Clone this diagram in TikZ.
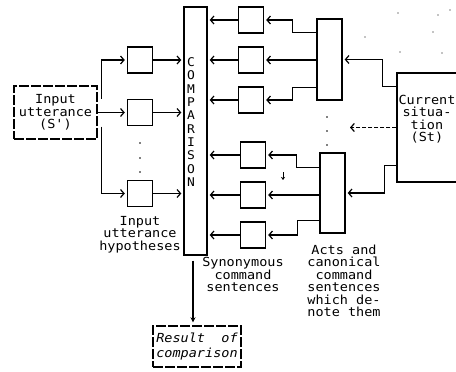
\documentclass[tikz,border=0pt]{standalone}
\usepackage{fontspec}
\newfontfamily\tw[FakeStretch=1.08]{DejaVu Sans Mono}
\usetikzlibrary{arrows.meta}
\begin{document}
\begin{tikzpicture}[x=1pt,y=-1pt,
  sq/.style={draw,line width=1.4pt,minimum width=25pt,minimum height=26pt,inner sep=0pt},
  tall/.style={draw,line width=1.4pt,inner sep=0pt},
  brk/.style={dash pattern=on 10pt off 2pt},
  arr/.style={line width=1.2pt,-{Straight Barb[length=3.5pt,width=8pt,line width=1.2pt]},shorten >=2pt},
  lbl/.style={font=\tw\fontsize{12.5}{12.5}\selectfont,align=center,inner sep=0pt},
  lett/.style={font=\tw\fontsize{12}{13.3}\selectfont,align=center,inner sep=0pt},
  dn/.style={line width=1.2pt,-{Stealth[length=5pt,width=5pt]}}
]
\useasboundingbox (0,0) rectangle (456,372);
\clip (0,0) rectangle (456,372);

% input utterance
\node[tall,brk,minimum width=83pt,minimum height=53pt,lbl] (in) at (55.5,112.5) {Input\\utterance\\(S')};

% hypotheses
\node[sq] (h1) at (140,60) {};
\node[sq] (h2) at (140,112.5) {};
\node[sq] (h3) at (140,193.5) {};
\foreach \yy in {143,158,172} \fill (140,\yy) circle (0.9pt);
\node[lbl] (hyplbl) at (140,234.5) {Input\\utterance\\hypotheses};

% comparison
\node[tall,minimum width=23pt,minimum height=248pt] (comp) at (195.5,131) {};
\node[lett] (complbl) at (191,122) {C\\O\\M\\P\\A\\R\\I\\S\\O\\N};

% synonymous command sentences
\node[sq] (s1) at (251,20) {};
\node[sq] (s2) at (251,60) {};
\node[sq] (s3) at (251,100) {};
\node[sq] (s4) at (253,155) {};
\node[sq] (s5) at (253,195) {};
\node[sq] (s6) at (253,235) {};
\node[lbl] (synlbl) at (243,274.5) {Synonymous\\command\\sentences};

% acts
\node[tall,minimum width=25pt,minimum height=81pt] (a1) at (329.5,59.5) {};
\node[tall,minimum width=25pt,minimum height=80pt] (a2) at (332.5,193) {};
\foreach \yy in {117,131,145} \fill (327,\yy) circle (0.9pt);
\node[lbl] (actlbl) at (344,281) {Acts and\\canonical\\command\\sentences\\which de-\\note them};

% current situation
\node[tall,minimum width=80pt,minimum height=109pt] (cs) at (437,127.5) {};
\node[lbl] (cslbl) at (427,119) {Current\\situa-\\tion\\(St)};

% result
\node[tall,brk,minimum width=88pt,minimum height=41pt,lbl,font=\tw\itshape\fontsize{12.5}{15}\selectfont] (res) at (197,346.5) {Result\ \ of\\comparison};

% input -> hypotheses
\draw[arr] (in.east) ++(4,-14) |- (h1.west);
\draw[arr] (in.east) -- (h2.west);
\draw[arr] (in.east) ++(4,14) |- (h3.west);

% hypotheses -> comparison
\foreach \n in {h1,h2,h3} \draw[arr] (\n.east) -- (\n.east -| comp.west);

% synonymous -> comparison
\foreach \n in {s1,s2,s3,s4,s5,s6} \draw[arr] (\n.west) -- (\n.west -| comp.east);

% acts -> synonymous
\draw[arr] (a1.north west) ++(0,14) -- ++(-24,0) |- (s1.east);
\draw[arr] (a1.west |- s2.east) -- (s2.east);
\draw[arr] (a1.south west) ++(0,-13) -- ++(-24,0) |- (s3.east);
\draw[arr] (a2.north west) ++(0,15) -- ++(-23,0) |- (s4.east);
\draw[arr] (a2.west |- s5.east) -- (s5.east);
\draw[arr] (a2.south west) ++(0,-13) -- ++(-22,0) |- (s6.east);

% current situation -> acts
\draw[arr] (cs.north west) ++(0,14) -- ++(-14,0) |- (a1.east);
\coordinate (dend) at (348,127.5);
\draw[arr,dash pattern=on 4pt off 2pt] (cs.west) -- (dend);
\draw[arr] (cs.south west) ++(0,-17) -- ++(-12,0) |- (a2.east);

% comparison -> result
\draw[dn] ([xshift=-2.5pt,yshift=-5pt]comp.south) -- ([xshift=-4pt,yshift=3pt]res.north);

% small mark
\coordinate (m1) at (283,172);
\coordinate (m2) at (283,180);
\draw[line width=1pt,-{Stealth[length=3pt,width=4pt]}] (m1) -- (m2);

% specks
\foreach \px/\py in {398/13,438/15,450/10,365/37,433/32,400/52,442/53}
  \fill (\px,\py) circle (0.7pt);
\end{tikzpicture}
\end{document}
